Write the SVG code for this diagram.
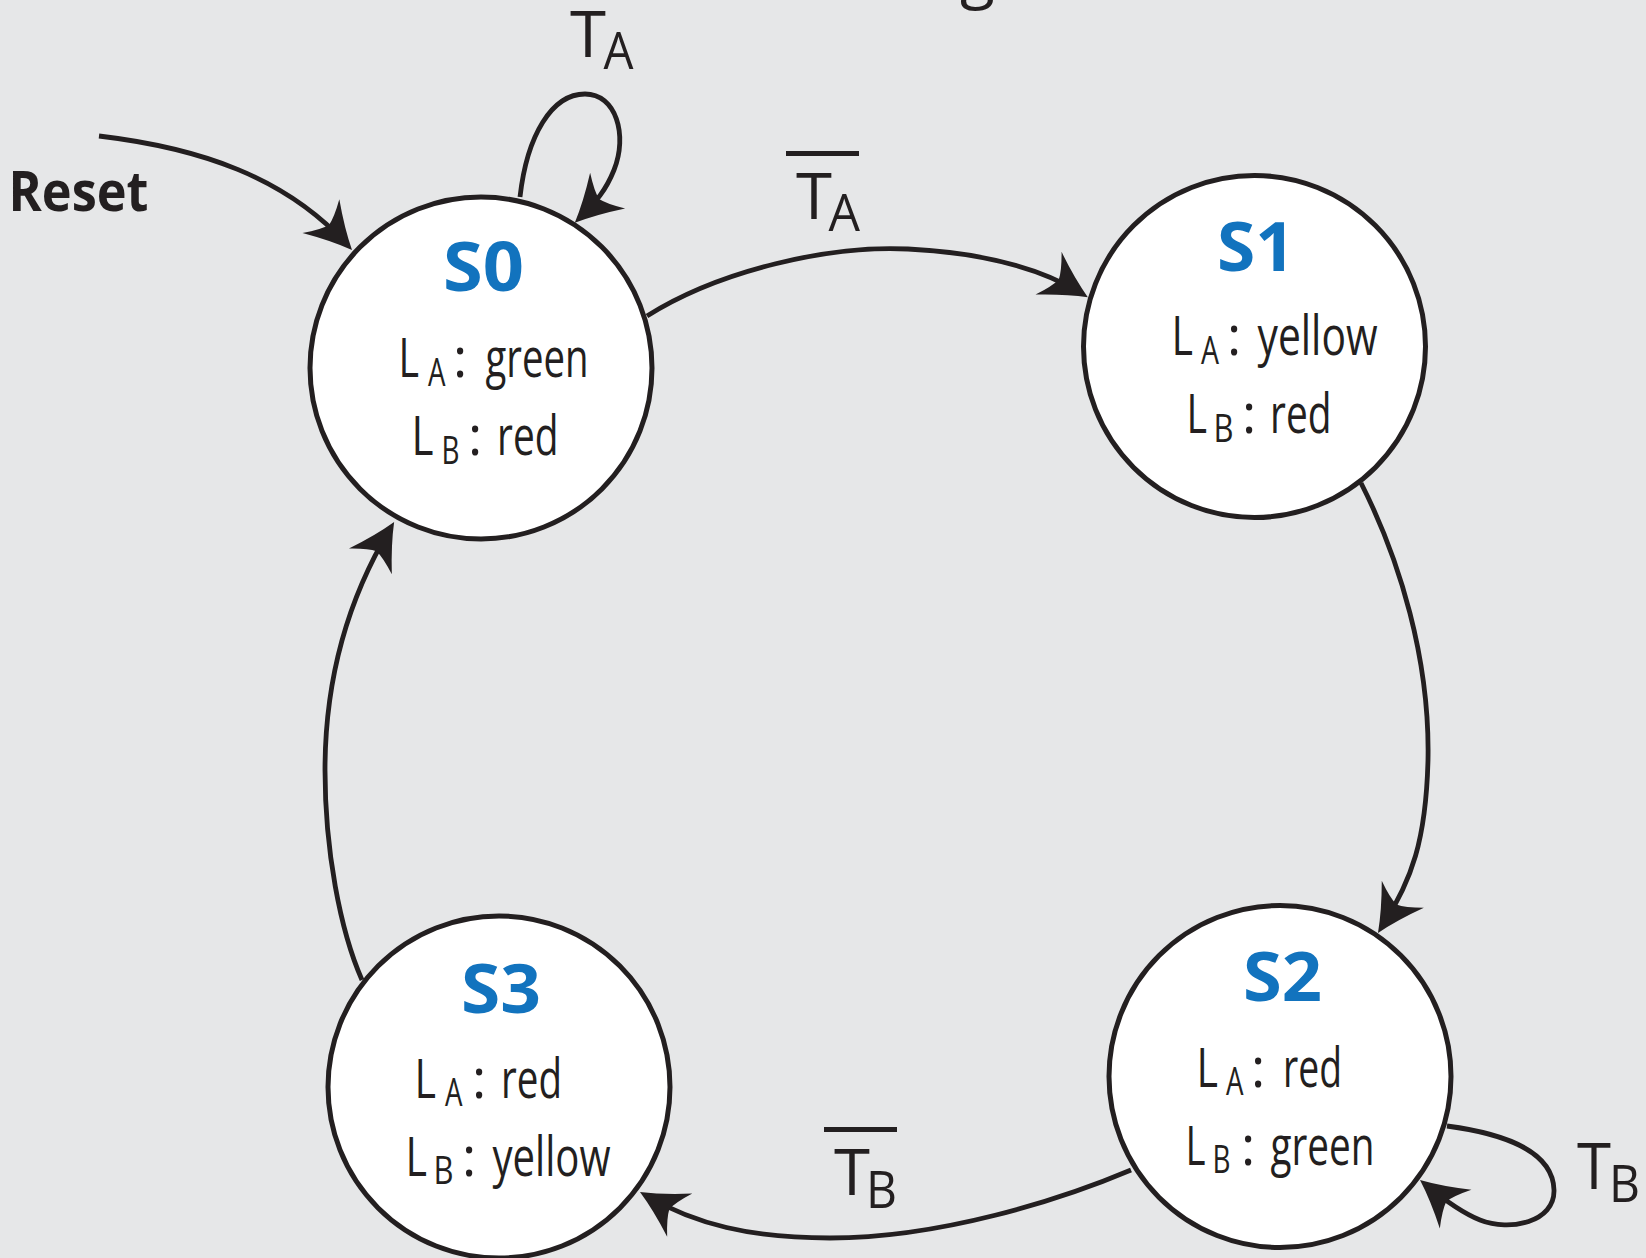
<svg xmlns="http://www.w3.org/2000/svg" width="1646" height="1258" viewBox="0 0 1646 1258">
  <defs>
    <style>
      .bg { fill: #e6e7e8; }
      .state { fill: #ffffff; stroke: #231f20; stroke-width: 5; }
      .edge { fill: none; stroke: #231f20; stroke-width: 4.8; marker-end: url(#arrow); }
      .title { font-family: "Open Sans", "Liberation Sans", sans-serif; font-weight: 700; font-size: 68px; fill: #1273be; }
      .lbl { font-family: "Open Sans", "Liberation Sans", sans-serif; font-size: 54px; fill: #231f20; }
      .sub { font-family: "Open Sans", "Liberation Sans", sans-serif; font-size: 39px; fill: #231f20; }
      .cond { font-family: "Open Sans", "Liberation Sans", sans-serif; font-size: 64px; fill: #231f20; }
      .condsub { font-family: "Open Sans", "Liberation Sans", sans-serif; font-size: 52px; fill: #231f20; }
      .reset { font-family: "Open Sans", "Liberation Sans", sans-serif; font-weight: 700; font-size: 56px; fill: #231f20; }
      .bar { stroke: #231f20; stroke-width: 5; }
    </style>
    <!-- flared arrowhead; tip sits 8px beyond the path end -->
    <marker id="arrow" markerUnits="userSpaceOnUse" viewBox="-54 -32 64 64" markerWidth="64" markerHeight="64" refX="-8" refY="0" orient="auto">
      <path d="M0,0 Q-21,-9 -46,-25 Q-36,-9 -34,0 Q-36,9 -46,25 Q-21,9 0,0 Z" fill="#231f20"/>
    </marker>
  </defs>

  <rect class="bg" x="0" y="0" width="1646" height="1258"/>

  <!-- heading text running off the top edge -->
  <text class="cond" x="960" y="-4" font-size="60">g</text>

  <!-- Reset label -->
  <text class="reset" x="8.5" y="211" textLength="140" lengthAdjust="spacingAndGlyphs">Reset</text>

  <!-- States -->
  <g id="S0">
    <circle class="state" cx="481" cy="368" r="171"/>
    <text class="title" x="443" y="291" textLength="81" lengthAdjust="spacingAndGlyphs">S0</text>
    <text class="lbl" x="398.5" y="377" textLength="20.5" lengthAdjust="spacingAndGlyphs">L</text>
    <text class="sub" x="428" y="386" textLength="17.5" lengthAdjust="spacingAndGlyphs">A</text>
    <text class="lbl" x="453" y="377">:</text>
    <text class="lbl" x="485.5" y="377" textLength="103" lengthAdjust="spacingAndGlyphs">green</text>
    <text class="lbl" x="411.5" y="455" textLength="22" lengthAdjust="spacingAndGlyphs">L</text>
    <text class="sub" x="441.5" y="464" textLength="18" lengthAdjust="spacingAndGlyphs">B</text>
    <text class="lbl" x="468" y="455">:</text>
    <text class="lbl" x="497" y="455" textLength="61.5" lengthAdjust="spacingAndGlyphs">red</text>
  </g>

  <g id="S1">
    <circle class="state" cx="1254.5" cy="346.5" r="171"/>
    <text class="title" x="1217" y="271" textLength="78" lengthAdjust="spacingAndGlyphs">S1</text>
    <text class="lbl" x="1171.5" y="355" textLength="21.5" lengthAdjust="spacingAndGlyphs">L</text>
    <text class="sub" x="1201" y="364" textLength="18" lengthAdjust="spacingAndGlyphs">A</text>
    <text class="lbl" x="1227" y="355">:</text>
    <text class="lbl" x="1257.5" y="355" textLength="120" lengthAdjust="spacingAndGlyphs">yellow</text>
    <text class="lbl" x="1186.5" y="433" textLength="20.5" lengthAdjust="spacingAndGlyphs">L</text>
    <text class="sub" x="1213.5" y="442" textLength="20" lengthAdjust="spacingAndGlyphs">B</text>
    <text class="lbl" x="1242" y="433">:</text>
    <text class="lbl" x="1270" y="433" textLength="61.5" lengthAdjust="spacingAndGlyphs">red</text>
  </g>

  <g id="S2">
    <circle class="state" cx="1280" cy="1076.5" r="171"/>
    <text class="title" x="1243" y="1001" textLength="79" lengthAdjust="spacingAndGlyphs">S2</text>
    <text class="lbl" x="1196.5" y="1087" textLength="21.5" lengthAdjust="spacingAndGlyphs">L</text>
    <text class="sub" x="1226" y="1095" textLength="17.5" lengthAdjust="spacingAndGlyphs">A</text>
    <text class="lbl" x="1251" y="1087">:</text>
    <text class="lbl" x="1283" y="1087" textLength="59" lengthAdjust="spacingAndGlyphs">red</text>
    <text class="lbl" x="1185.5" y="1165" textLength="20" lengthAdjust="spacingAndGlyphs">L</text>
    <text class="sub" x="1212.5" y="1173" textLength="18" lengthAdjust="spacingAndGlyphs">B</text>
    <text class="lbl" x="1241" y="1165">:</text>
    <text class="lbl" x="1270.5" y="1165" textLength="104" lengthAdjust="spacingAndGlyphs">green</text>
  </g>

  <g id="S3">
    <circle class="state" cx="499" cy="1087" r="171"/>
    <text class="title" x="461" y="1013" textLength="80" lengthAdjust="spacingAndGlyphs">S3</text>
    <text class="lbl" x="414.5" y="1098" textLength="21.5" lengthAdjust="spacingAndGlyphs">L</text>
    <text class="sub" x="445" y="1106" textLength="17.5" lengthAdjust="spacingAndGlyphs">A</text>
    <text class="lbl" x="472" y="1098">:</text>
    <text class="lbl" x="501" y="1098" textLength="61" lengthAdjust="spacingAndGlyphs">red</text>
    <text class="lbl" x="405.5" y="1176" textLength="21.5" lengthAdjust="spacingAndGlyphs">L</text>
    <text class="sub" x="433.5" y="1184" textLength="20" lengthAdjust="spacingAndGlyphs">B</text>
    <text class="lbl" x="462" y="1176">:</text>
    <text class="lbl" x="492.5" y="1176" textLength="118" lengthAdjust="spacingAndGlyphs">yellow</text>
  </g>

  <!-- Transitions -->
  <g id="connectors">
    <path class="edge" d="M99,136 C200,148 285,177 346.6,244.1"/>
    <path class="edge" d="M520,197 C527,135 552,94 585,94 C616,94 628,135 614,170 C606,190 596,202 580.5,217.2"/>
    <path class="edge" d="M647,316 C720,270 830,245 908,249 C985,253 1040,268 1081,293"/>
    <path class="edge" d="M1361,483 C1400,560 1430,660 1428,760 C1426,840 1412,880 1382.3,926.3"/>
    <path class="edge" d="M1447,1126 C1500,1133 1553,1150 1554,1190 C1555,1222 1510,1232 1480,1220 C1460,1212 1442,1198 1426.2,1185.1"/>
    <path class="edge" d="M1131,1170 C1060,1200 940,1238 830,1238 C750,1238 695,1224 646.9,1196"/>
    <path class="edge" d="M362,980 C340,930 325,850 325,770 C325,670 352,592 390,528.9"/>
  </g>

  <!-- Transition conditions -->
  <g id="labels">
    <text class="cond" x="570" y="57" textLength="36" lengthAdjust="spacingAndGlyphs">T</text>
    <text class="condsub" x="603.5" y="69" textLength="30" lengthAdjust="spacingAndGlyphs">A</text>

    <line class="bar" x1="786" y1="153.5" x2="859" y2="153.5"/>
    <text class="cond" x="796" y="219" textLength="36" lengthAdjust="spacingAndGlyphs">T</text>
    <text class="condsub" x="828.5" y="231" textLength="31.5" lengthAdjust="spacingAndGlyphs">A</text>

    <line class="bar" x1="824" y1="1129.5" x2="897" y2="1129.5"/>
    <text class="cond" x="834" y="1195" textLength="36" lengthAdjust="spacingAndGlyphs">T</text>
    <text class="condsub" x="866" y="1208" textLength="31" lengthAdjust="spacingAndGlyphs">B</text>

    <text class="cond" x="1577" y="1189" textLength="34" lengthAdjust="spacingAndGlyphs">T</text>
    <text class="condsub" x="1609" y="1202" textLength="31" lengthAdjust="spacingAndGlyphs">B</text>
  </g>
</svg>
